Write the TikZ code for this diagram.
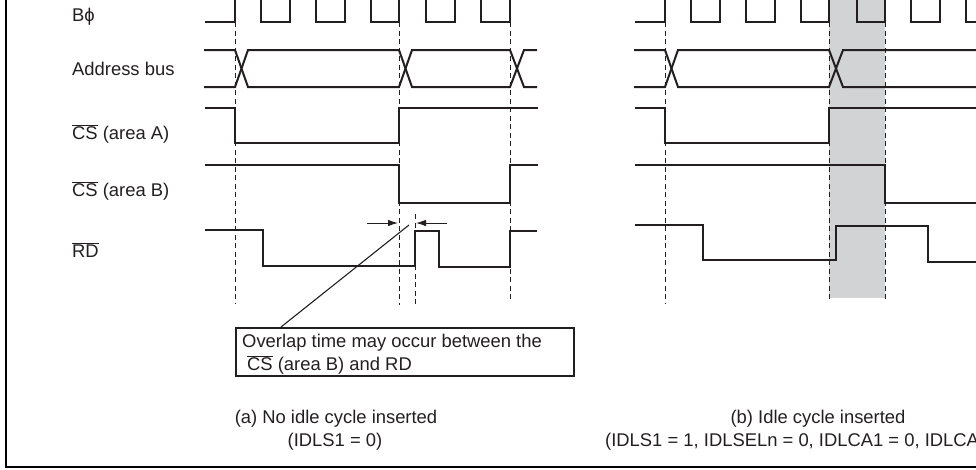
\documentclass[tikz,border=0pt]{standalone}
\usepackage{fontspec}
\setmainfont{Liberation Sans}
\usetikzlibrary{arrows.meta}
\newcommand{\csbar}{$\overline{\mbox{CS}}$}
\newcommand{\rdbar}{$\overline{\mbox{RD}}$}
\definecolor{ink}{HTML}{231F20}
\definecolor{idlegray}{HTML}{D1D3D4}
\tikzset{
  wave/.style={draw=ink,line width=2pt,line join=miter},
  guide/.style={draw=ink,line width=1pt,dash pattern=on 5pt off 3.5pt},
  framerule/.style={draw=black,line width=2.4pt},
  sig/.style={anchor=base west,inner sep=0pt,font=\fontsize{18.4}{24}\selectfont,text=ink},
  capt/.style={anchor=base,inner sep=0pt,font=\fontsize{18.4}{24}\selectfont,text=ink},
  thinline/.style={draw=ink,line width=1.1pt},
  tip/.style={-{Latex[length=10pt,width=6.5pt]},draw=ink,line width=0.9pt}
}
\begin{document}
\begin{tikzpicture}[x=1pt,y=-1pt]
\useasboundingbox (0,0) rectangle (976,469);
\clip (0,0) rectangle (976,469);
% shaded idle cycle
\fill[idlegray] (829,0) rectangle (885,298);
% frame
\draw[framerule] (6,-3) -- (6,467) -- (980,467);
% dashed guides
\foreach \x/\b/\t in {235/303/22,399/305/22,415/305/214,510/301/22,665/303/22,829/302/22,885/302/22}
  \draw[guide] (\x,\t) -- (\x,\b);
% labels
\node[sig] (lbphi) at (72,21) {Bϕ};
\node[sig] (laddr) at (72,75) {Address bus};
\node[sig] (lcsa) at (72,139) {\csbar{} (area A)};
\node[sig] (lcsb) at (72,196.5) {\csbar{} (area B)};
\node[sig] (lrd) at (72,257) {\rdbar};
% panel a
\draw[wave] (205,22) -- (235,22) -- (235,-3);
\foreach \l/\r in {261/290,316/345,371/399,426/455,481/510}
  \draw[wave] (\l,-3) -- (\l,22) -- (\r,22) -- (\r,-3);
\draw[wave] (204,50) -- (235,50) -- (248,87) -- (399,87) -- (412,50) -- (510,50) -- (524,87) -- (537,87);
\draw[wave] (204,87) -- (235,87) -- (248,50) -- (399,50) -- (412,87) -- (510,87) -- (524,50) -- (537,50);
\draw[wave] (205,108) -- (235,108) -- (235,143) -- (399,143) -- (399,108) -- (538,108);
\draw[wave] (205,165) -- (399,165) -- (399,203) -- (510,203) -- (510,164.5) -- (538,164.5);
\draw[wave] (205,230) -- (263,230) -- (263,266) -- (415,266) -- (415,231) -- (439,231) -- (439,267) -- (510,267) -- (510,231) -- (537,231);
% panel b
\draw[wave] (635,22) -- (665,22) -- (665,-3);
\foreach \l/\r in {691/720,746/775,801/829,857/885,911/940,966/995}
  \draw[wave] (\l,-3) -- (\l,22) -- (\r,22) -- (\r,-3);
\draw[wave] (634,50) -- (665,50) -- (678,87) -- (829,87) -- (843,50) -- (980,50);
\draw[wave] (634,87) -- (665,87) -- (678,50) -- (829,50) -- (843,87) -- (980,87);
\draw[wave] (635,108) -- (665,108) -- (665,143) -- (829,143) -- (829,108) -- (980,108);
\draw[wave] (635,165) -- (885,165) -- (885,203) -- (980,203);
\draw[wave] (635,225) -- (703,225) -- (703,260) -- (836,260) -- (836,226) -- (928,226) -- (928,262) -- (980,262);
% overlap arrows
\coordinate (al) at (367,223);
\coordinate (ale) at (398,223);
\coordinate (ar) at (447,223);
\coordinate (are) at (416,223);
\draw[tip] (al) -- (ale);
\draw[tip] (ar) -- (are);
% callout
\node[draw=ink,line width=1.8pt,fill=white,anchor=north west,minimum width=338pt,minimum height=48pt,inner sep=0pt] (callout) at (235,327) {};
\node[capt,anchor=base west] (cl1) at (242,347) {Overlap time may occur between the};
\node[capt,anchor=base west] (cl2) at (247,370) {\csbar{} (area B) and RD};
\coordinate (leadtop) at (409,225);
\draw[thinline] (leadtop) -- (281,0 |- callout.north);
% captions
\node[capt] (capa1) at (336,423) {(a) No idle cycle inserted};
\node[capt] (capa2) at (335,446) {(IDLS1 = 0)};
\node[capt] (capb1) at (818,423) {(b) Idle cycle inserted};
\node[capt,anchor=base west] (capb2) at (605,446) {(IDLS1 = 1, IDLSELn = 0, IDLCA1 = 0, IDLCA};
\end{tikzpicture}
\end{document}
